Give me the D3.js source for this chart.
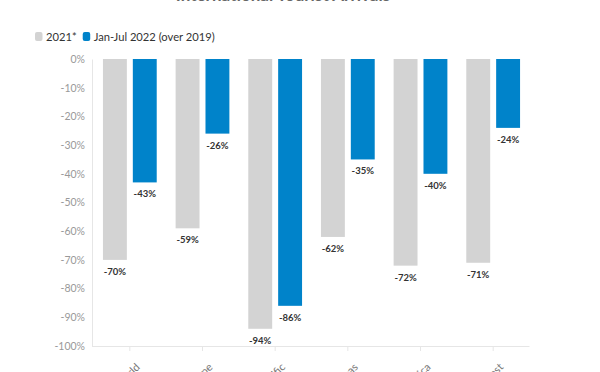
<!DOCTYPE html>
<html>
<head>
<meta charset="utf-8">
<script src="https://cdn.jsdelivr.net/npm/d3@7"></script>
<style>
  body { margin: 0; background: #fff; }
  svg { display: block; font-family: Lato, "Noto Sans", sans-serif; }
</style>
</head>
<body>
<div id="chart"></div>
<script>
const categories = ["World", "Europe", "Asia Pacific", "Americas", "Africa", "Middle East"];
const seriesNames = ["2021*", "Jan-Jul 2022 (over 2019)"];
const values2021 = [-70, -59, -94, -62, -72, -71];
const values2022 = [-43, -26, -86, -35, -40, -24];
const yTicks = [0, -10, -20, -30, -40, -50, -60, -70, -80, -90, -100];
const colors = ["#d3d3d3", "#0083ca"];

const width = 600, height = 372;
const svg = d3.select("#chart").append("svg")
  .attr("width", width)
  .attr("height", height);

const x = d3.scaleBand().domain(categories).range([93.5, 529.5])
  .paddingInner(0.26).paddingOuter(0.13);
const xOuter = d3.scaleBand().domain(categories).range([93.5, 529.5]);
const xInner = d3.scaleBand().domain(seriesNames).range([0, x.bandwidth()]).paddingInner(0.2);
const y = d3.scaleLinear().domain([-100, 0]).range([346, 59]);

// title (mostly cut off at top)
svg.append("text")
  .attr("x", 283).attr("y", 1)
  .attr("text-anchor", "middle")
  .style("font-size", "17px").style("font-weight", "bold")
  .style("fill", "#666")
  .text("International Tourist Arrivals");

// legend
const legend = svg.append("g");
let lx = 35;
seriesNames.forEach((name, i) => {
  legend.append("rect")
    .attr("x", lx).attr("y", 32).attr("width", 7.5).attr("height", 9).attr("rx", 2)
    .attr("fill", colors[i]);
  const t = legend.append("text")
    .attr("x", lx + 11).attr("y", 40.5)
    .style("font-size", "11.2px").style("fill", "#333")
    .text(name);
  lx += 11 + t.node().getComputedTextLength() + 6;
});

// y axis
const yAxis = svg.append("g")
  .attr("transform", "translate(92,0)")
  .call(d3.axisLeft(y).tickValues(yTicks).tickSize(0).tickPadding(7).tickFormat(d => d + "%"));
yAxis.select(".domain").attr("stroke", "#e6e6e6");
yAxis.selectAll("text").style("font-size", "10.5px").style("fill", "#999").style("font-family", "Lato, sans-serif");

// x axis
const xAxis = svg.append("g")
  .attr("transform", "translate(0,346)")
  .call(d3.axisBottom(xOuter).tickSize(5).tickSizeOuter(0).tickPadding(6));
xAxis.select(".domain").attr("stroke", "#e6e6e6").attr("d", "M92,0.5H529.5");
xAxis.selectAll(".tick line").attr("stroke", "#e6e6e6");
xAxis.selectAll("text")
  .style("font-size", "11px").style("fill", "#777").style("font-family", "Lato, sans-serif")
  .attr("text-anchor", "end")
  .attr("dy", "0")
  .attr("transform", "translate(3,14) rotate(-45)");

// bars
const rows = categories.map((c, i) => ({ cat: c, vals: [values2021[i], values2022[i]] }));
const groups = svg.selectAll(".grp").data(rows).enter().append("g")
  .attr("class", "grp")
  .attr("transform", d => `translate(${x(d.cat)},0)`);

groups.selectAll("rect")
  .data(d => d.vals.map((v, j) => ({ name: seriesNames[j], v, j })))
  .enter().append("rect")
  .attr("x", d => xInner(d.name))
  .attr("y", y(0))
  .attr("width", xInner.bandwidth())
  .attr("height", d => y(d.v) - y(0))
  .attr("fill", d => colors[d.j]);

groups.selectAll(".lbl")
  .data(d => d.vals.map((v, j) => ({ name: seriesNames[j], v, j })))
  .enter().append("text")
  .attr("class", "lbl")
  .attr("x", d => xInner(d.name) + xInner.bandwidth() / 2)
  .attr("y", d => y(d.v) + 15)
  .attr("text-anchor", "middle")
  .style("font-size", "9.5px").style("font-weight", "bold").style("fill", "#333")
  .text(d => d.v + "%");
</script>
</body>
</html>
